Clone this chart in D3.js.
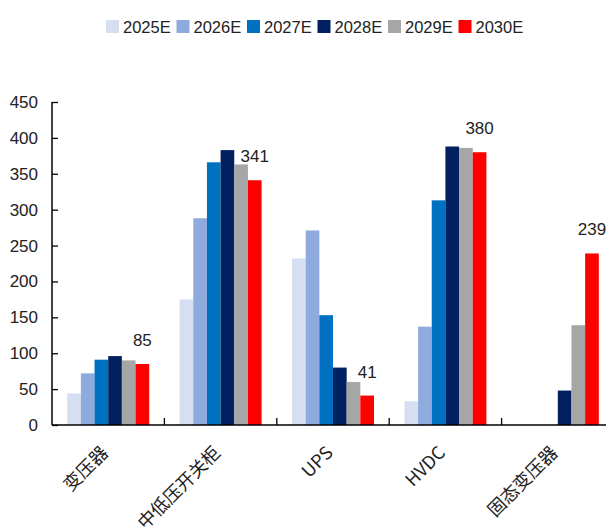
<!DOCTYPE html>
<html>
<head>
<meta charset="utf-8">
<script src="https://cdn.jsdelivr.net/npm/d3@7"></script>
<style>
  html, body { margin: 0; padding: 0; background: #fff; }
  svg { display: block; }
</style>
</head>
<body>
<svg id="chart" width="606" height="527"></svg>
<script>
// Categories, series and values
const categories = ["变压器", "中低压开关柜", "UPS", "HVDC", "固态变压器"];
const seriesNames = ["2025E", "2026E", "2027E", "2028E", "2029E", "2030E"];
const seriesColors = ["#D6DFF1", "#8FAADC", "#0070C0", "#002060", "#A6A6A6", "#FF0000"];
const v2025 = [44, 175, 232, 33, null];
const v2026 = [72, 288, 271, 137, null];
const v2027 = [91, 366, 153, 313, null];
const v2028 = [96, 383, 80, 388, 48];
const v2029 = [90, 363, 60, 386, 139];
const v2030 = [85, 341, 41, 380, 239];
const yTicks = [0, 50, 100, 150, 200, 250, 300, 350, 400, 450];

const seriesValues = [v2025, v2026, v2027, v2028, v2029, v2030];

const svg = d3.select("#chart");
const numFont = "'Liberation Sans', Arial, sans-serif";
const cjkFont = "'Noto Sans CJK SC', 'Liberation Sans', sans-serif";

const plotLeft = 52, plotRight = 614, plotTop = 102, plotBottom = 425;

const x0 = d3.scaleBand().domain(categories).range([plotLeft, plotRight]).padding(0);
const groupW = 82;
const x1 = d3.scaleBand().domain(seriesNames)
  .range([(x0.bandwidth() - groupW) / 2, (x0.bandwidth() + groupW) / 2]).padding(0);
const y = d3.scaleLinear().domain([0, 450]).range([plotBottom, plotTop]);

// Bars
const groups = svg.append("g").selectAll("g")
  .data(categories)
  .join("g")
  .attr("transform", d => `translate(${x0(d)},0)`);

groups.selectAll("rect")
  .data((c, ci) => seriesNames.map((s, si) => ({ s, si, v: seriesValues[si][ci] })).filter(d => d.v != null))
  .join("rect")
  .attr("x", d => x1(d.s))
  .attr("width", x1.bandwidth())
  .attr("y", d => y(d.v))
  .attr("height", d => y(0) - y(d.v))
  .attr("fill", d => seriesColors[d.si]);

// Value labels above the 2030E bars
svg.append("g").selectAll("text")
  .data(categories.map((c, i) => ({ c, v: v2030[i] })))
  .join("text")
  .attr("x", d => x0(d.c) + x1("2030E") + x1.bandwidth() / 2)
  .attr("y", d => y(d.v) - 18)
  .attr("text-anchor", "middle")
  .attr("font-family", numFont)
  .attr("font-size", 17)
  .attr("fill", "#222")
  .text(d => d.v);

// Y axis
const yAxis = svg.append("g")
  .attr("transform", `translate(${plotLeft},0)`)
  .call(d3.axisLeft(y).tickValues(yTicks).tickSize(-6).tickPadding(14));
yAxis.select(".domain").attr("stroke", "#000").attr("stroke-width", 1.5)
  .attr("d", `M0,${plotTop}V${plotBottom}`);
yAxis.selectAll(".tick line").attr("stroke", "#000").attr("stroke-width", 1.3);
yAxis.selectAll(".tick text")
  .attr("font-family", numFont).attr("font-size", 17).attr("fill", "#222");

// X axis with boundary ticks between categories
const xAxisG = svg.append("g");
xAxisG.append("line")
  .attr("x1", plotLeft).attr("x2", plotRight)
  .attr("y1", plotBottom).attr("y2", plotBottom)
  .attr("stroke", "#000").attr("stroke-width", 1.5);
xAxisG.selectAll("line.bound")
  .data(categories.slice(1))
  .join("line")
  .attr("class", "bound")
  .attr("x1", d => x0(d)).attr("x2", d => x0(d))
  .attr("y1", plotBottom).attr("y2", plotBottom - 7)
  .attr("stroke", "#000").attr("stroke-width", 1.3);

xAxisG.selectAll("text")
  .data(categories)
  .join("text")
  .attr("transform", d => `translate(${x0(d) + x0.bandwidth() / 2 + 1},${plotBottom + 29}) rotate(-45)`)
  .attr("text-anchor", "end")
  .attr("font-family", cjkFont)
  .attr("font-size", 18)
  .attr("fill", "#222")
  .text(d => d);

// Legend
const legend = svg.append("g").attr("transform", "translate(106,20)");
const itemW = 70.5;
seriesNames.forEach((s, i) => {
  const g = legend.append("g").attr("transform", `translate(${i * itemW},0)`);
  g.append("rect").attr("width", 13).attr("height", 13).attr("fill", seriesColors[i]);
  g.append("text")
    .attr("x", 17).attr("y", 12.5)
    .attr("font-family", numFont).attr("font-size", 16.5).attr("fill", "#222")
    .text(s);
});
</script>
</body>
</html>
